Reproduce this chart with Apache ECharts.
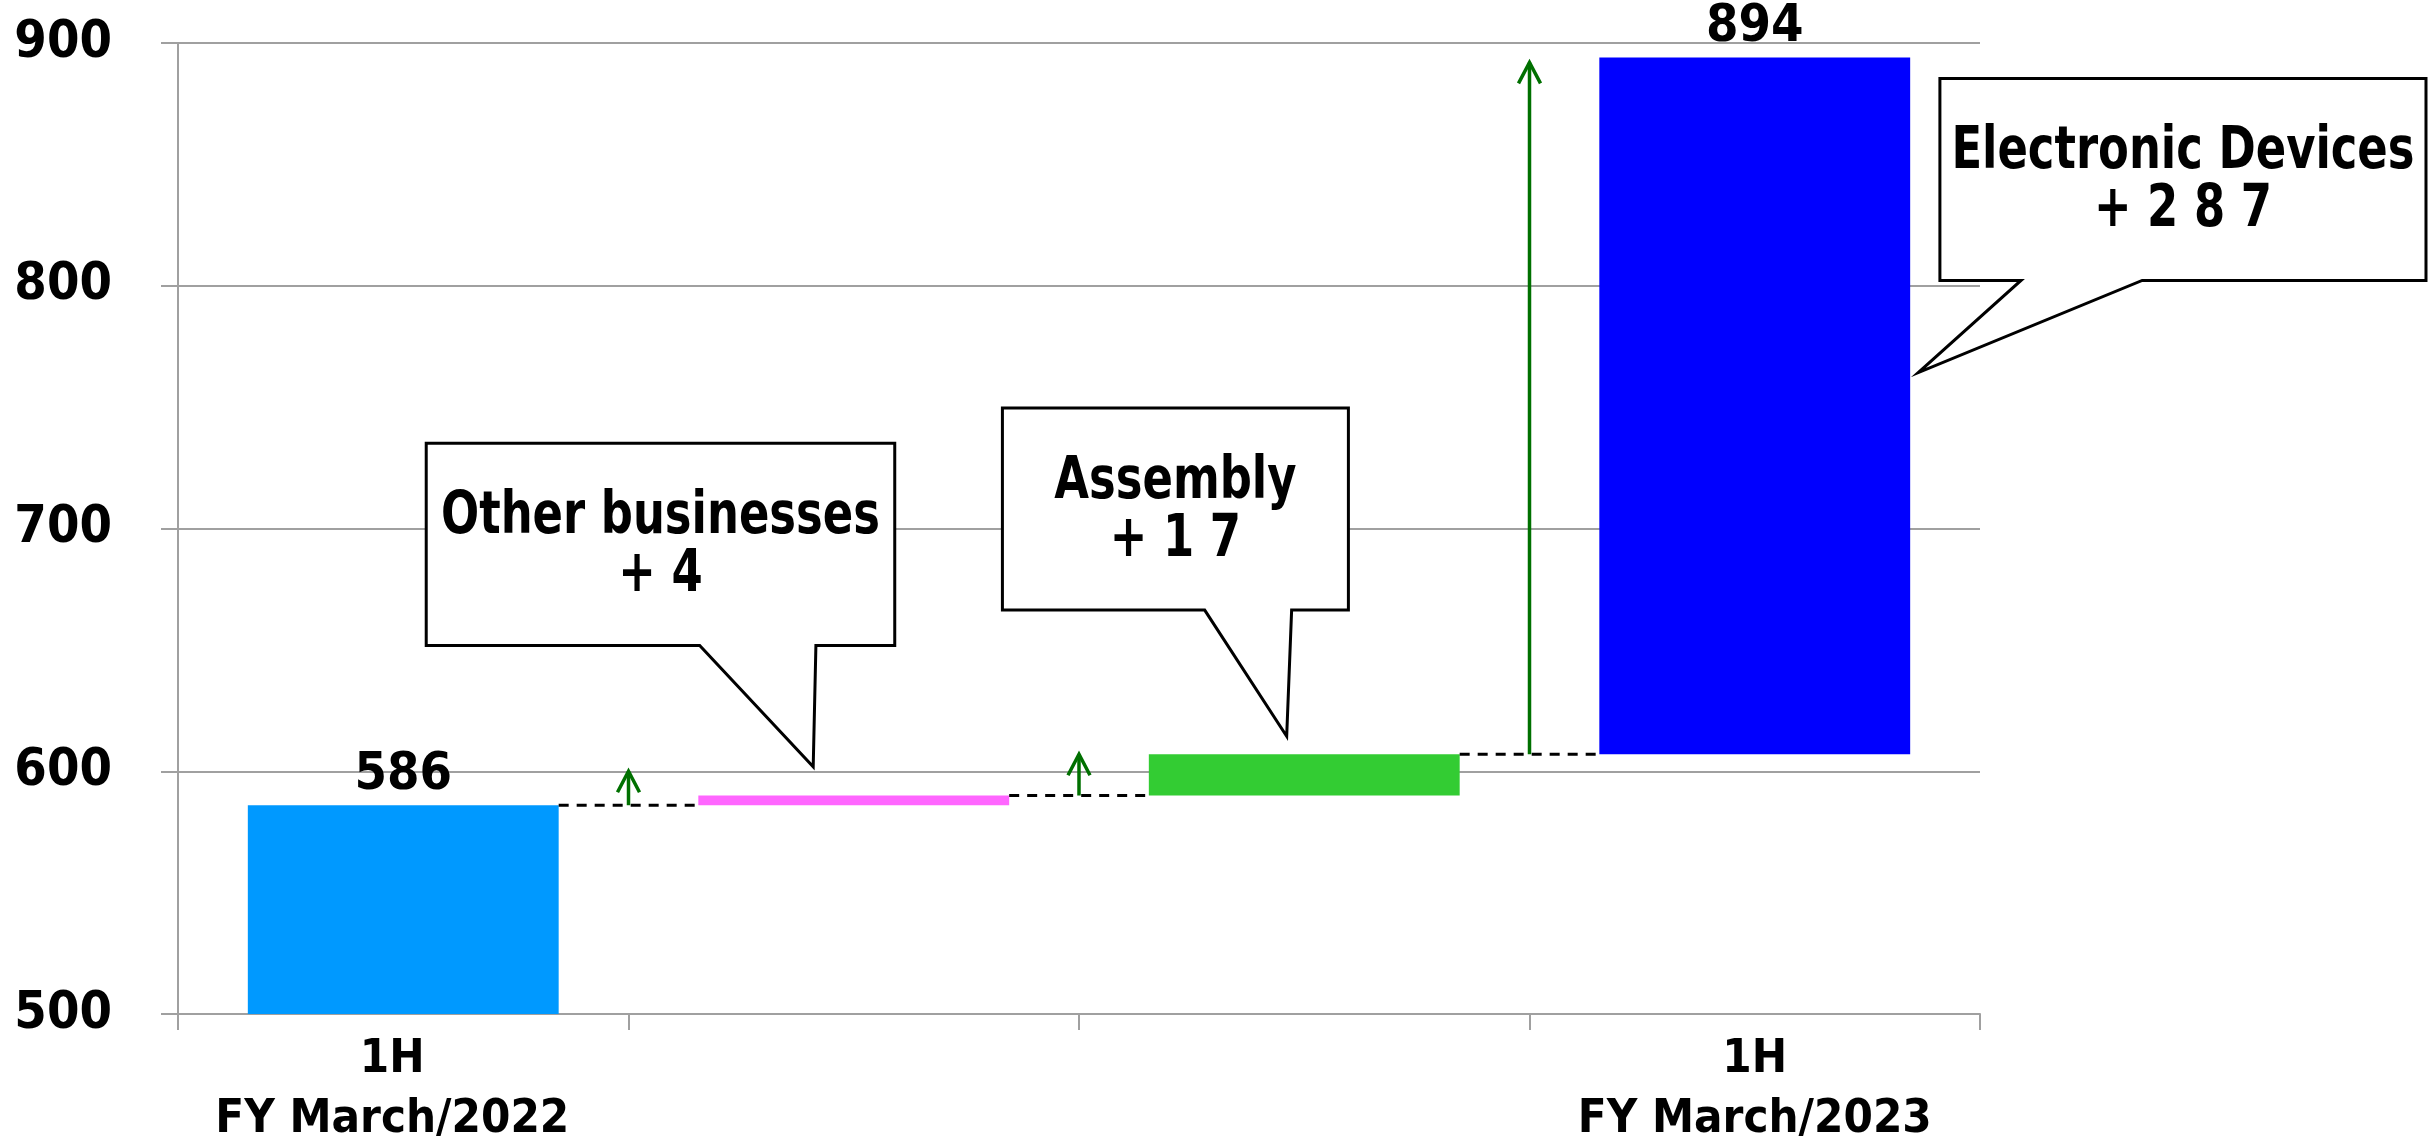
<!DOCTYPE html>
<html>
<head>
<meta charset="utf-8">
<script src="https://cdn.jsdelivr.net/npm/echarts@6/dist/echarts.min.js"></script>
<style>
  html, body { margin: 0; padding: 0; background: #fff; }
  #chart { width: 2434px; height: 1141px; }
</style>
</head>
<body>
<div id="chart"></div>
<script>
// waterfall: 1H FY March/2022 -> 1H FY March/2023
const categories = ["1H\nFY March/2022", "", "", "1H\nFY March/2023"];
const stackBase = [0, 586, 590, 607];
const stackStep = [586, 4, 17, 287];
const barColors = ["#0099FF", "#FF66FF", "#33CC33", "#0000FF"];
const topLabels = ["586", "", "", "894"];

// dashed connector after a category: [category, level]
const connectors = [[0, 586], [1, 590], [2, 607]];
// green arrow on the boundary after a category: [category, from, to]
const arrows = [[0, 586, 600], [1, 590, 607], [2, 607, 892]];

// callouts: x in category units (0..4), y in axis values
const calloutText = ["Other businesses\n+ 4", "Assembly\n+ 1 7", "Electronic Devices\n+ 2 8 7"];
const calloutBox = [[0.551, 1.591, 735.1, 651.8], [1.830, 2.598, 749.6, 666.4], [3.911, 4.990, 885.4, 802.2]];
const calloutTail = [[1.158, 1.416, 1.410, 601.8], [2.279, 2.472, 2.461, 614.4], [4.091, 4.360, 3.863, 764.2]];

const FONT = '"DejaVu Sans Condensed", "DejaVu Sans", Verdana, sans-serif';
const GRID_GRAY = "#A0A0A0";
const ARROW_GREEN = "#007000";
const BAR_WIDTH = 0.69;

const chart = echarts.init(document.getElementById("chart"), null, { renderer: "canvas" });

function xAt(api, u) {
  const c0 = api.coord([0, 500])[0];
  const band = api.size([1, 0])[0];
  return c0 + (u - 0.5) * band;
}

// the first category label sits a little left of its bar in the original
const xAxisData = categories.map((c, i) =>
  i === 0 ? { value: c, textStyle: { padding: [0, 22, 0, 0] } } : c
);

const option = {
  animation: false,
  backgroundColor: "#fff",
  grid: { left: 178, right: 454, top: 43, bottom: 127, outerBoundsMode: "none" },
  xAxis: {
    type: "category",
    data: xAxisData,
    axisLine: { lineStyle: { color: GRID_GRAY, width: 2 } },
    axisTick: { show: true, length: 16, lineStyle: { color: GRID_GRAY, width: 2 } },
    axisLabel: {
      color: "#000",
      fontFamily: FONT,
      fontWeight: "bold",
      fontSize: 47,
      lineHeight: 60,
      margin: 16,
      interval: 0,
    },
  },
  yAxis: {
    type: "value",
    min: 500,
    max: 900,
    interval: 100,
    axisLine: { show: true, lineStyle: { color: GRID_GRAY, width: 2 } },
    axisTick: { show: true, length: 17, lineStyle: { color: GRID_GRAY, width: 2 } },
    splitLine: { lineStyle: { color: GRID_GRAY, width: 2 } },
    axisLabel: {
      color: "#000",
      fontFamily: FONT,
      fontWeight: "bold",
      fontSize: 52,
      margin: 66,
    },
  },
  series: [
    {
      name: "base",
      type: "bar",
      stack: "w",
      barWidth: BAR_WIDTH * 100 + "%",
      itemStyle: { color: "transparent" },
      data: stackBase,
      silent: true,
    },
    {
      name: "step",
      type: "bar",
      stack: "w",
      barWidth: BAR_WIDTH * 100 + "%",
      data: stackStep.map((v, i) => ({ value: v, itemStyle: { color: barColors[i] } })),
      label: {
        show: true,
        position: "top",
        distance: 4,
        color: "#000",
        fontFamily: FONT,
        fontWeight: "bold",
        fontSize: 52,
        formatter: (p) => topLabels[p.dataIndex],
      },
    },
    {
      name: "connectors",
      type: "custom",
      z: 3,
      data: connectors,
      renderItem(params, api) {
        const i = api.value(0);
        const p = api.coord([i, api.value(1)]);
        const band = api.size([1, 0])[0];
        const half = (band * BAR_WIDTH) / 2;
        return {
          type: "line",
          shape: { x1: p[0] + half, y1: p[1], x2: p[0] + band - half, y2: p[1] },
          style: { stroke: "#000", lineWidth: 3, lineDash: [10, 8] },
        };
      },
    },
    {
      name: "arrows",
      type: "custom",
      z: 4,
      data: arrows,
      renderItem(params, api) {
        const i = api.value(0);
        const band = api.size([1, 0])[0];
        const a = api.coord([i, api.value(1)]);
        const b = api.coord([i, api.value(2)]);
        const x = a[0] + band / 2;
        return {
          type: "group",
          children: [
            {
              type: "line",
              shape: { x1: x, y1: a[1], x2: x, y2: b[1] },
              style: { stroke: ARROW_GREEN, lineWidth: 3.5 },
            },
            {
              type: "polyline",
              shape: { points: [[x - 11, b[1] + 21], [x, b[1]], [x + 11, b[1] + 21]] },
              style: { stroke: ARROW_GREEN, lineWidth: 3.5, fill: null },
            },
          ],
        };
      },
    },
    {
      name: "callouts",
      type: "custom",
      z: 5,
      data: calloutText.map((t, i) => [i, 700]),
      renderItem(params, api) {
        const k = params.dataIndex;
        const [l, r, top, bottom] = calloutBox[k];
        const [tl, tr, tip, tipY] = calloutTail[k];
        const L = xAt(api, l), R = xAt(api, r);
        const T = api.coord([0, top])[1], B = api.coord([0, bottom])[1];
        const TL = xAt(api, tl), TR = xAt(api, tr), TX = xAt(api, tip);
        const TY = api.coord([0, tipY])[1];
        return {
          type: "group",
          children: [
            {
              type: "polygon",
              shape: { points: [[L, T], [R, T], [R, B], [TR, B], [TX, TY], [TL, B], [L, B]] },
              style: { fill: "#fff", stroke: "#000", lineWidth: 3 },
            },
            {
              type: "text",
              x: (L + R) / 2,
              y: (T + B) / 2 + 3,
              scaleX: 0.86,
              style: {
                text: calloutText[k],
                x: 0,
                y: 0,
                align: "center",
                verticalAlign: "middle",
                fill: "#000",
                fontFamily: FONT,
                fontWeight: "bold",
                fontSize: 58,
                lineHeight: 58,
              },
            },
          ],
        };
      },
    },
  ],
};

chart.setOption(option);
window.addEventListener("resize", () => chart.resize());
</script>
</body>
</html>
